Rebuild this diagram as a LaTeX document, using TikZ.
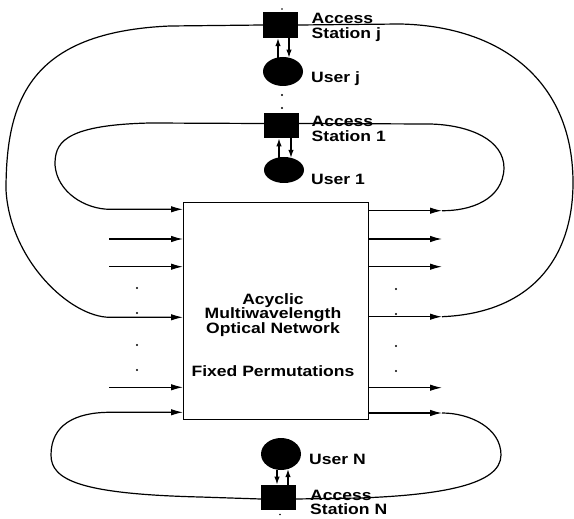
\documentclass[tikz,border=0pt]{standalone}
\usepackage{fontspec}
\newfontfamily\lblfont[FakeStretch=1.17]{Liberation Sans}
\usetikzlibrary{arrows.meta,shapes.geometric}
\begin{document}
\begin{tikzpicture}[x=1pt,y=-1pt,
  txt/.style={font={\lblfont\bfseries\fontsize{15pt}{15pt}\selectfont},inner sep=0pt},
  lbl/.style={txt,anchor=base west},
  ctr/.style={txt,anchor=base},
  wire/.style={line width=1.2pt},
  arr/.style={line width=1.2pt,-{Latex[length=12pt,width=6.5pt]}},
  uarr/.style={line width=1.2pt,-{Latex[length=8pt,width=5.5pt]}},
  station/.style={fill=black,draw=none,inner sep=0pt,minimum width=35pt,minimum height=25.5pt},
  user/.style={ellipse,fill=black,draw=none,inner sep=0pt},
  dotc/.style={fill=black}]
\useasboundingbox (0,0) rectangle (574,519);
\fill[white] (0,0) rectangle (574,519);

% network box
\node[draw,line width=1.4pt,inner sep=0pt,minimum width=185pt,minimum height=217.5pt,anchor=north west] (net) at (183,201.5) {};

% stations and users
\node[station,minimum height=26pt] (stj) at (280.5,25) {};
\node[user,minimum width=40pt,minimum height=29pt] (usj) at (283,71.5) {};
\node[station] (st1) at (281.5,125.5) {};
\node[user,minimum width=40pt,minimum height=26pt] (us1) at (284,170) {};
\node[user,minimum width=40pt,minimum height=32pt] (usN) at (281,454) {};
\node[station] (stN) at (278.5,497.5) {};

% port coordinates
\coordinate (i1) at (110,209.3);
\coordinate (i2) at (109,239);
\coordinate (i3) at (109,266.7);
\coordinate (i4) at (110,317.3);
\coordinate (i5) at (109,387.3);
\coordinate (i6) at (110,412.3);
\coordinate (o1) at (442,210.7);
\coordinate (o2) at (442,239);
\coordinate (o3) at (442,266.7);
\coordinate (o4) at (442,316.7);
\coordinate (o5) at (442,387.7);
\coordinate (o6) at (442,413);

% straight inputs and outputs
\foreach \p in {i2,i3,i5} \draw[arr] (\p) -- (net.west |- \p);
\foreach \p in {o1,o2,o3,o4,o5,o6} \draw[arr] (net.east |- \p) -- (\p);

% outer loop (station j)
\draw[wire] (o4) .. controls (530,313) and (572,260) .. (573,185)
  .. controls (574,80) and (500,26) .. (400,24) -- (stj.east);
\draw[arr] (stj.west) -- (170,26) .. controls (30,32) and (6,100) .. (6,190)
  .. controls (10,260) and (70,317.3) .. (i4) -- (net.west |- i4);

% inner loop (station 1)
\draw[wire] (o1) .. controls (470,211) and (503,200) .. (504,168)
  .. controls (504,140) and (470,125) .. (430,124) -- ([yshift=2pt]st1.east);
\draw[arr] ([yshift=2pt]st1.west) -- (150,123) .. controls (60,125) and (55,145) .. (55,165)
  .. controls (57,192) and (85,209.3) .. (i1) -- (net.west |- i1);

% bottom loop (station N)
\draw[wire] (o6) .. controls (470,413) and (501,428) .. (501,455)
  .. controls (501,485) and (440,495) .. (360,498) -- ([yshift=-1.5pt]stN.east);
\draw[arr] ([yshift=-1.5pt]stN.west) -- (200,497) .. controls (80,494) and (51,480) .. (51,455)
  .. controls (51,425) and (75,412.3) .. (i6) -- (net.west |- i6);

% station <-> user arrows
\draw[uarr] ([xshift=-5pt,yshift=-0.8pt]usj.north) -- ([xshift=-2.5pt]stj.south);
\draw[uarr] ([xshift=8.5pt]stj.south) -- ([xshift=6pt,yshift=-0.8pt]usj.north);
\draw[uarr] ([xshift=-5pt,yshift=-0.8pt]us1.north) -- ([xshift=-2.5pt]st1.south);
\draw[uarr] ([xshift=9.5pt]st1.south) -- ([xshift=7pt,yshift=-1pt]us1.north);
\draw[uarr] ([xshift=-4pt,yshift=0.6pt]usN.south) -- ([xshift=-1.5pt]stN.north);
\draw[uarr] ([xshift=9.5pt]stN.north) -- ([xshift=7pt,yshift=1pt]usN.south);

% dots
\foreach \y in {288,313,345,370} {\fill[dotc] (137,\y) circle (1.2pt); \fill[dotc] (396,\y+1) circle (1.2pt);}
\fill[dotc] (282,95) circle (1.2pt);
\fill[dotc] (282,108) circle (1.2pt);
\fill[dotc] (282,9) circle (0.9pt);
\fill[dotc] (280,514.5) circle (0.9pt);

% labels
\node[lbl] (lAj) at (311.5,24) {Access};
\node[lbl] (lSj) at (311.5,38.5) {Station j};
\node[lbl] (lUj) at (311,83) {User j};
\node[lbl] (lA1) at (311.5,127) {Access};
\node[lbl] (lS1) at (311.5,141.5) {Station 1};
\node[lbl] (lU1) at (311,185) {User 1};
\node[lbl] (lUN) at (309,464.5) {User N};
\node[lbl] (lAN) at (310,500) {Access};
\node[lbl] (lSN) at (310,514.5) {Station N};

% box text
\node[ctr] (t1) at (273,304) {Acyclic};
\node[ctr] (t2) at (273,318.5) {Multiwavelength};
\node[ctr] (t3) at (273,333) {Optical Network};
\node[ctr] (t4) at (273,376.7) {Fixed Permutations};
\end{tikzpicture}
\end{document}
